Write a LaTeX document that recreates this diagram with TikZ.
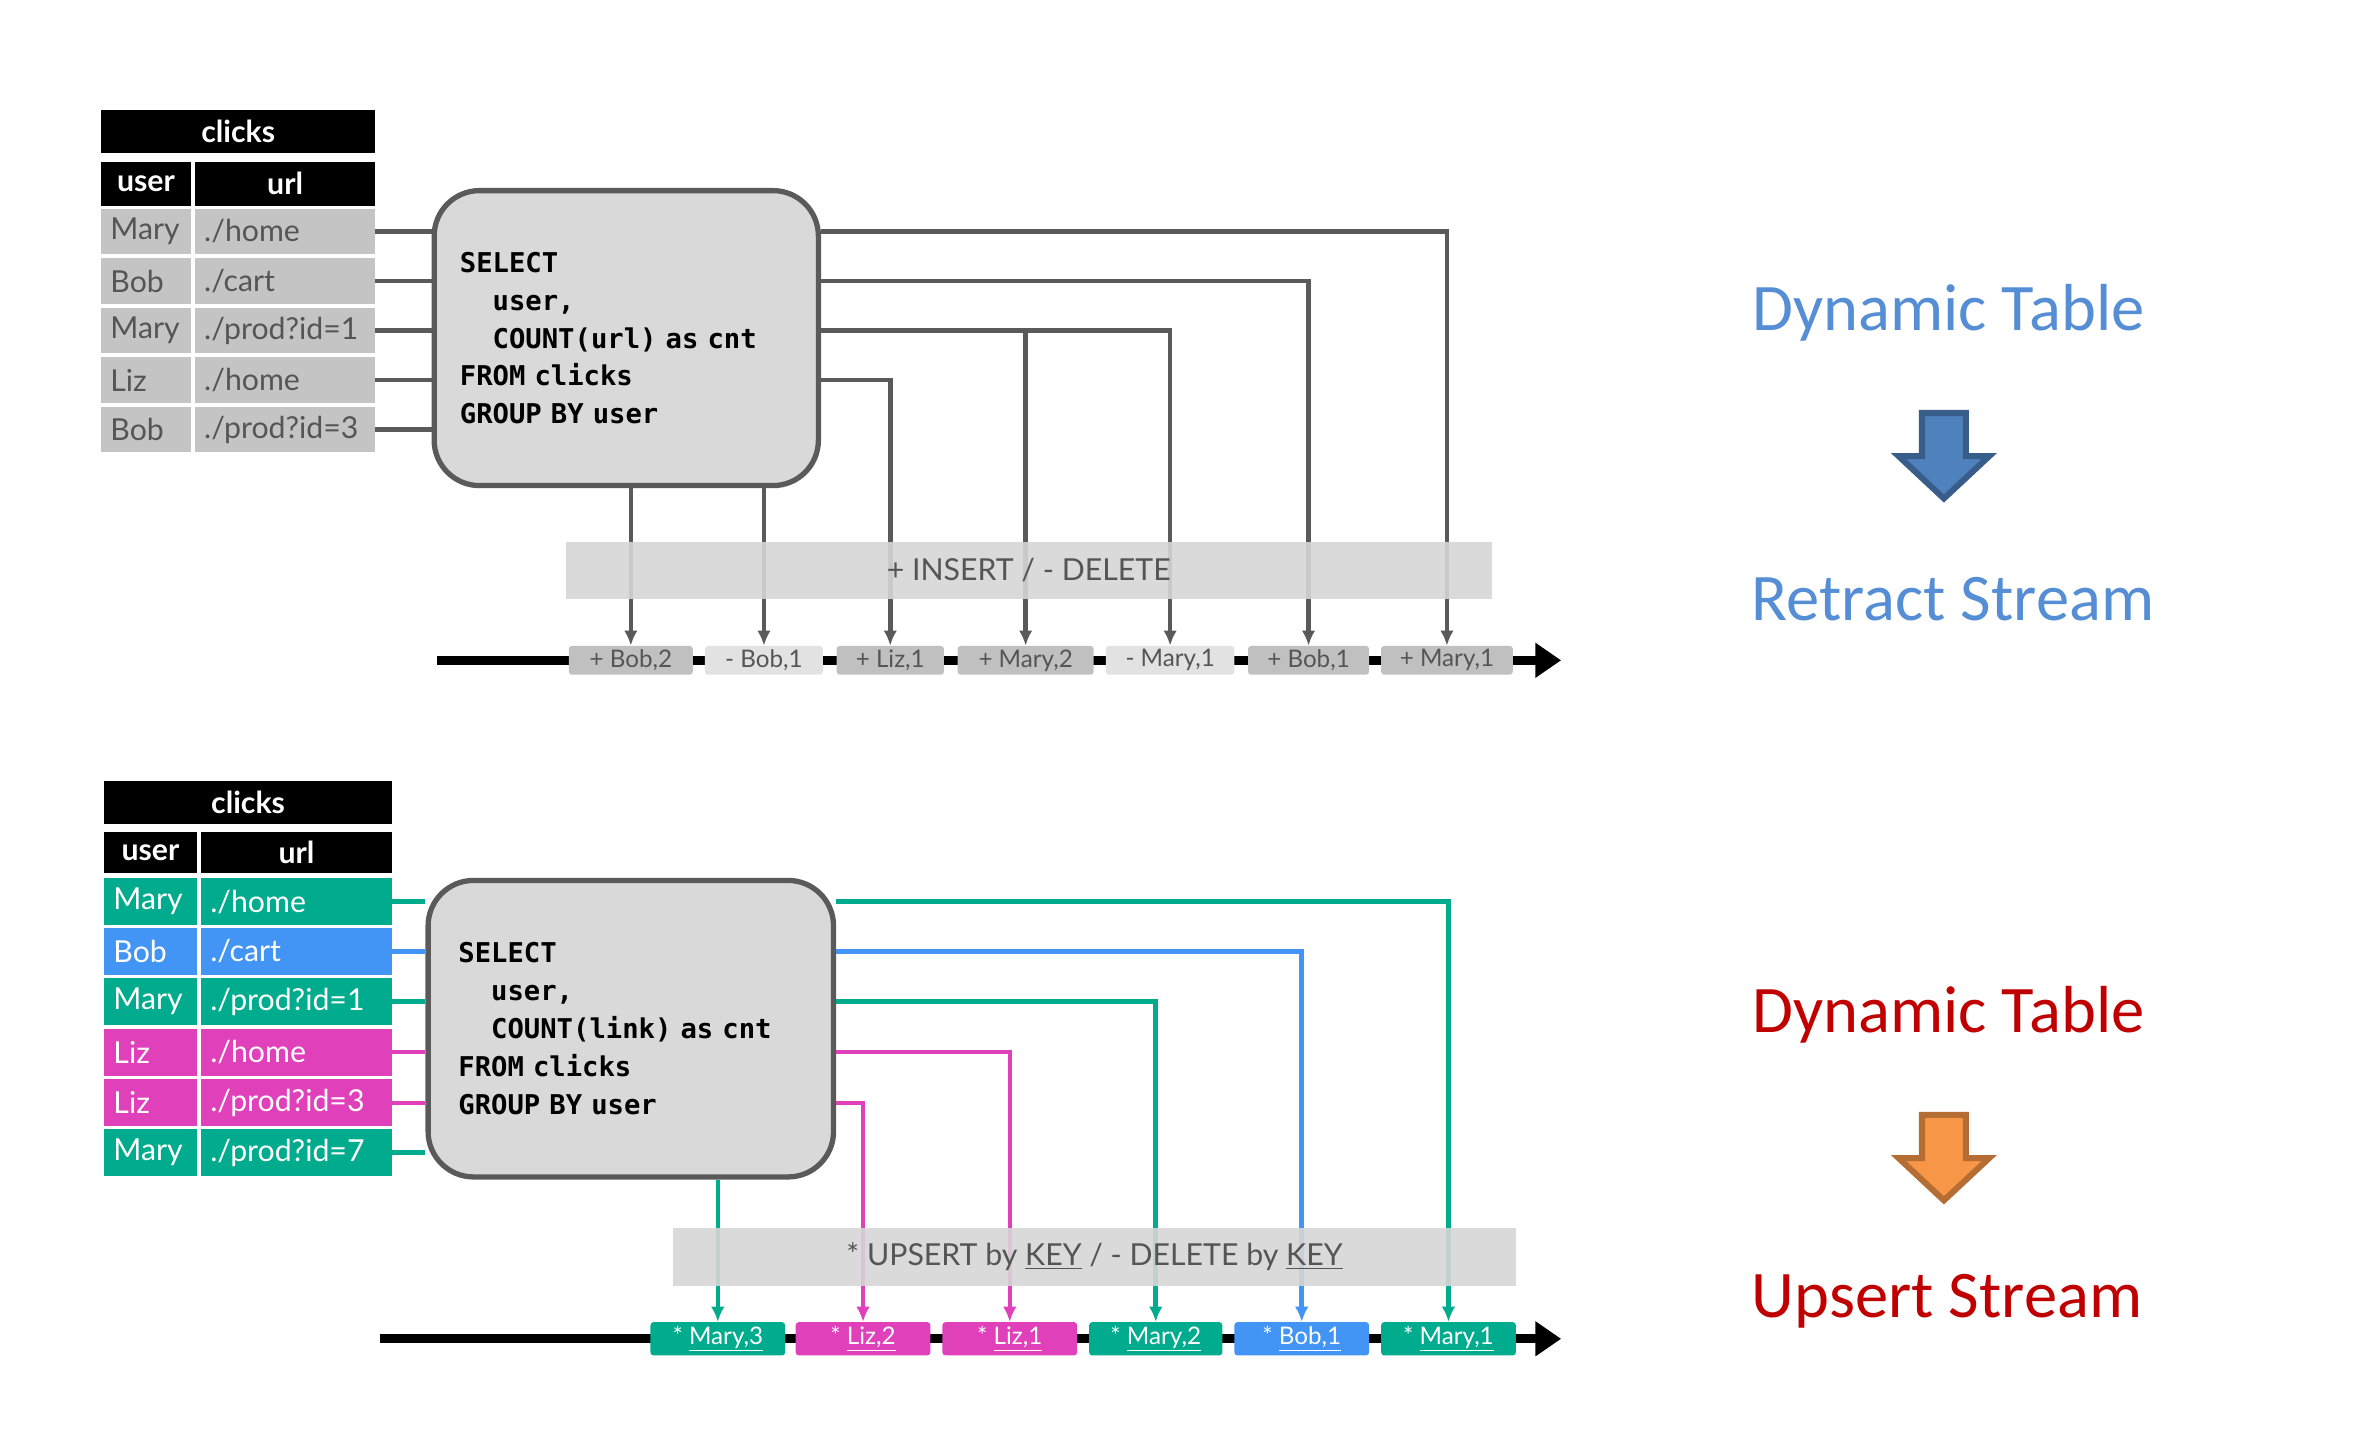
\documentclass[tikz,border=0pt]{standalone}
\usepackage{fontspec}
\setmainfont{Lato}
\newfontfamily\sqlfont{DejaVu Sans Mono}
\newfontfamily\calfont{Carlito}
\usetikzlibrary{positioning}
\usetikzlibrary{calc}
\usetikzlibrary{arrows.meta}
\definecolor{cellgray}{RGB}{196,196,196}
\definecolor{txtgray}{RGB}{85,85,85}
\definecolor{linegray}{RGB}{90,90,90}
\definecolor{sqlgray}{RGB}{217,217,217}
\definecolor{bandgray}{RGB}{214,214,214}
\definecolor{plusgray}{RGB}{192,192,192}
\definecolor{minusgray}{RGB}{226,226,226}
\definecolor{mint}{RGB}{0,172,141}
\definecolor{sky}{RGB}{66,149,245}
\definecolor{pink}{RGB}{224,64,186}
\definecolor{titleblue}{RGB}{85,142,213}
\definecolor{titlered}{RGB}{192,0,0}
\definecolor{arrblue}{RGB}{79,129,189}
\definecolor{arrblueline}{RGB}{56,93,138}
\definecolor{arrorange}{RGB}{247,150,70}
\definecolor{arrorangeline}{RGB}{182,109,52}

\begin{document}
\begin{tikzpicture}[
    x=1pt, y=-1pt,
    >={Latex[length=10pt,width=9pt]},
    hdr/.style={fill=black, text=white, font=\bfseries\fontsize{20}{20}\selectfont, inner sep=0pt},
    cell/.style={fill=cellgray, text=txtgray, font=\fontsize{20}{20}\selectfont, minimum height=30pt, inner xsep=6pt, inner ysep=0pt, align=left},
    sql/.style={draw=linegray, line width=3.5pt, fill=sqlgray, rounded corners=30pt, align=left, font=\sqlfont\bfseries\fontsize{18}{25}\selectfont, inner ysep=0pt},
    band/.style={fill=bandgray, fill opacity=0.9, text opacity=1, text=txtgray, minimum height=38pt, inner sep=0pt, font=\fontsize{20}{20}\selectfont},
    ev/.style={rounded corners=2pt, minimum height=19pt, inner sep=0pt, font=\fontsize{16}{16}\selectfont},
    flow/.style={->, line width=3pt, draw=linegray},
    input/.style={line width=3pt, draw=linegray},
    stream/.style={line width=6pt, -{Triangle[length=17pt,width=22pt]}},
    title/.style={font=\calfont\fontsize{44}{44}\selectfont}
]
    \useasboundingbox (0,0) rectangle (1568,955);

    % retract stream (top)
    \node[hdr, minimum width=181pt, minimum height=28pt] (h1) at (157.5,87) {clicks};
    \node[hdr, minimum width=59pt, minimum height=29pt] (hu1) at (96.5,121.5) {user};
    \node[hdr, minimum width=119pt, minimum height=29pt] (hl1) at (188.5,121.5) {url};
    \node[cell, text width=47pt] (u1) at (96.5,153) {Mary};
    \node[cell, text width=107pt] (l1) at (188.5,153) {./home};
    \node[cell, text width=47pt] (u2) at (96.5,185.75) {Bob};
    \node[cell, text width=107pt] (l2) at (188.5,185.75) {./cart};
    \node[cell, text width=47pt] (u3) at (96.5,218.5) {Mary};
    \node[cell, text width=107pt] (l3) at (188.5,218.5) {./prod?id=1};
    \node[cell, text width=47pt] (u4) at (96.5,251.25) {Liz};
    \node[cell, text width=107pt] (l4) at (188.5,251.25) {./home};
    \node[cell, text width=47pt] (u5) at (96.5,284) {Bob};
    \node[cell, text width=107pt] (l5) at (188.5,284) {./prod?id=3};

    \node[sql, inner xsep=17pt, text width=220pt, minimum height=195pt] (sql1) at (414,223.5)
        {SELECT\\\phantom{SE}user,\\\phantom{SE}COUNT(url) as cnt\\FROM clicks\\GROUP BY user};

    \draw[input] (l1.east) -- (l1.east -| sql1.west);
    \draw[input] (l2.east) -- (l2.east -| sql1.west);
    \draw[input] (l3.east) -- (l3.east -| sql1.west);
    \draw[input] (l4.east) -- (l4.east -| sql1.west);
    \draw[input] (l5.east) -- (l5.east -| sql1.west);

    \coordinate (ts1) at (289,436.5);
    \coordinate (te1) at (1032,436.5);
    \draw[stream] (ts1) -- (te1);

    \node[ev, fill=plusgray, text=txtgray, minimum width=82pt] (t1) at (417,436.5) {+ Bob,2};
    \node[ev, fill=minusgray, text=txtgray, minimum width=78pt] (t2) at (505,436.5) {- Bob,1};
    \node[ev, fill=plusgray, text=txtgray, minimum width=71pt] (t3) at (588.5,436.5) {+ Liz,1};
    \node[ev, fill=plusgray, text=txtgray, minimum width=90pt] (t4) at (678,436.5) {+ Mary,2};
    \node[ev, fill=minusgray, text=txtgray, minimum width=85pt] (t5) at (773.5,436.5) {- Mary,1};
    \node[ev, fill=plusgray, text=txtgray, minimum width=80pt] (t6) at (865,436.5) {+ Bob,1};
    \node[ev, fill=plusgray, text=txtgray, minimum width=87pt] (t7) at (956.5,436.5) {+ Mary,1};

    \draw[flow] (l1.east -| sql1.east) -| (t7.north);
    \draw[flow] (l2.east -| sql1.east) -| (t6.north);
    \draw[flow] (l3.east -| sql1.east) -| (t5.north);
    \draw[flow] (t4.north |- l3.east) -- (t4.north);
    \draw[flow] (l4.east -| sql1.east) -| (t3.north);
    \draw[flow] (t1.north |- sql1.south) -- (t1.north);
    \draw[flow] (t2.north |- sql1.south) -- (t2.north);

    \node[band, minimum width=612pt] (band1) at (680,377) {+ INSERT / - DELETE};

    % upsert stream (bottom)
    \node[hdr, minimum width=190pt, minimum height=29pt] (h2) at (164,530.5) {clicks};
    \node[hdr, minimum width=61pt, minimum height=27pt] (hu2) at (99.5,563.5) {user};
    \node[hdr, minimum width=126pt, minimum height=27pt] (hl2) at (196,563.5) {url};
    \node[cell, fill=mint, text=white, minimum height=31pt, text width=49pt] (v1) at (99.5,596) {Mary};
    \node[cell, fill=mint, text=white, minimum height=31pt, text width=114pt] (k1) at (196,596) {./home};
    \node[cell, fill=sky, text=white, minimum height=31pt, text width=49pt] (v2) at (99.5,629) {Bob};
    \node[cell, fill=sky, text=white, minimum height=31pt, text width=114pt] (k2) at (196,629) {./cart};
    \node[cell, fill=mint, text=white, minimum height=31pt, text width=49pt] (v3) at (99.5,662) {Mary};
    \node[cell, fill=mint, text=white, minimum height=31pt, text width=114pt] (k3) at (196,662) {./prod?id=1};
    \node[cell, fill=pink, text=white, minimum height=31pt, text width=49pt] (v4) at (99.5,695.5) {Liz};
    \node[cell, fill=pink, text=white, minimum height=31pt, text width=114pt] (k4) at (196,695.5) {./home};
    \node[cell, fill=pink, text=white, minimum height=31pt, text width=49pt] (v5) at (99.5,729) {Liz};
    \node[cell, fill=pink, text=white, minimum height=31pt, text width=114pt] (k5) at (196,729) {./prod?id=3};
    \node[cell, fill=mint, text=white, minimum height=31pt, text width=49pt] (v6) at (99.5,762) {Mary};
    \node[cell, fill=mint, text=white, minimum height=31pt, text width=114pt] (k6) at (196,762) {./prod?id=7};

    \node[sql, inner xsep=20pt, text width=228pt, minimum height=196pt] (sql2) at (417,680)
        {SELECT\\\phantom{SE}user,\\\phantom{SE}COUNT(link) as cnt\\FROM clicks\\GROUP BY user};

    \draw[input, draw=mint] (k1.east) -- (k1.east -| sql2.west);
    \draw[input, draw=sky] (k2.east) -- (k2.east -| sql2.west);
    \draw[input, draw=mint] (k3.east) -- (k3.east -| sql2.west);
    \draw[input, draw=pink] (k4.east) -- (k4.east -| sql2.west);
    \draw[input, draw=pink] (k5.east) -- (k5.east -| sql2.west);
    \draw[input, draw=mint] (k6.east) -- (k6.east -| sql2.west);

    \coordinate (ts2) at (251,885);
    \coordinate (te2) at (1032,885);
    \draw[stream] (ts2) -- (te2);

    \node[ev, fill=mint, text=white, minimum width=89pt, minimum height=22pt] (b1) at (474.5,885) {* \underline{Mary,3}};
    \node[ev, fill=pink, text=white, minimum width=89pt, minimum height=22pt] (b2) at (570.5,885) {* \underline{Liz,2}};
    \node[ev, fill=pink, text=white, minimum width=89pt, minimum height=22pt] (b3) at (667.5,885) {* \underline{Liz,1}};
    \node[ev, fill=mint, text=white, minimum width=88pt, minimum height=22pt] (b4) at (764,885) {* \underline{Mary,2}};
    \node[ev, fill=sky, text=white, minimum width=89pt, minimum height=22pt] (b5) at (860.5,885) {* \underline{Bob,1}};
    \node[ev, fill=mint, text=white, minimum width=89pt, minimum height=22pt] (b6) at (957.5,885) {* \underline{Mary,1}};

    \draw[flow, draw=mint] (k1.east -| sql2.east) -| (b6.north);
    \draw[flow, draw=sky] (k2.east -| sql2.east) -| (b5.north);
    \draw[flow, draw=mint] (k3.east -| sql2.east) -| (b4.north);
    \draw[flow, draw=pink] (k4.east -| sql2.east) -| (b3.north);
    \draw[flow, draw=pink] (k5.east -| sql2.east) -| (b2.north);
    \draw[flow, draw=mint] (b1.north |- sql2.south) -- (b1.north);

    \node[band, minimum width=557pt] (band2) at (723.5,831) {* UPSERT by \underline{KEY} / - DELETE by \underline{KEY}};

    % captions on the right
    \node[title, text=titleblue] (dt1) at (1288,207) {Dynamic Table};
    \node[title, text=titleblue] (rs1) at (1291,396) {Retract Stream};
    \draw[line width=4pt, draw=arrblueline, fill=arrblue, line join=miter]
        (1270.5,273) -- (1299.5,273) -- (1299.5,301.5) -- (1315,301.5) -- (1285,329.5) -- (1255,301.5) -- (1270.5,301.5) -- cycle;

    \node[title, text=titlered] (dt2) at (1288,671) {Dynamic Table};
    \node[title, text=titlered] (us2) at (1287,860) {Upsert Stream};
    \draw[line width=4pt, draw=arrorangeline, fill=arrorange, line join=miter]
        (1270.5,737) -- (1299.5,737) -- (1299.5,765.5) -- (1315,765.5) -- (1285,793.5) -- (1255,765.5) -- (1270.5,765.5) -- cycle;
\end{tikzpicture}
\end{document}
